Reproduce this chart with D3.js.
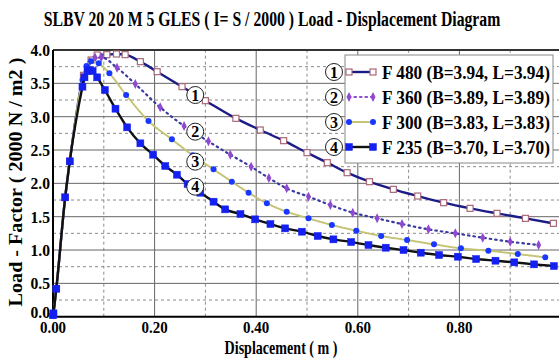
<!DOCTYPE html>
<html>
<head>
<meta charset="utf-8">
<script src="https://cdn.jsdelivr.net/npm/d3@7"></script>
<style>
  body { margin: 0; background: #fff; }
  text { font-family: "Liberation Serif", "Times New Roman", serif; font-weight: bold; }
</style>
</head>
<body>
<div id="chart"></div>
<script>
// Data
var title = "SLBV 20 20 M 5 GLES ( I= S / 2000 ) Load - Displacement Diagram";
var xTicks = [0, 0.2, 0.4, 0.6, 0.8];
var yTicks = [0, 0.5, 1.0, 1.5, 2.0, 2.5, 3.0, 3.5, 4.0];
var seriesNames = ["F 480 (B=3.94, L=3.94)", "F 360 (B=3.89, L=3.89)", "F 300 (B=3.83, L=3.83)", "F 235 (B=3.70, L=3.70)"];

var x1 = [0, 0.0065, 0.024, 0.033, 0.06, 0.075, 0.087, 0.106, 0.125, 0.142, 0.172, 0.205, 0.254, 0.30, 0.36, 0.408, 0.454, 0.50, 0.54, 0.579, 0.623, 0.67, 0.718, 0.769, 0.821, 0.874, 0.93, 0.985];
var y1 = [0, 0.42, 1.79, 2.33, 3.62, 3.85, 3.925, 3.93, 3.94, 3.93, 3.825, 3.675, 3.45, 3.24, 2.975, 2.80, 2.64, 2.46, 2.31, 2.16, 2.025, 1.91, 1.81, 1.71, 1.625, 1.55, 1.475, 1.40];

var x2 = [0, 0.0065, 0.024, 0.033, 0.06, 0.072, 0.083, 0.095, 0.126, 0.162, 0.211, 0.258, 0.306, 0.349, 0.39, 0.425, 0.46, 0.503, 0.546, 0.59, 0.638, 0.687, 0.739, 0.792, 0.846, 0.90, 0.956];
var y2 = [0, 0.42, 1.79, 2.33, 3.6, 3.82, 3.885, 3.89, 3.735, 3.49, 3.14, 2.86, 2.63, 2.43, 2.25, 2.08, 1.925, 1.80, 1.675, 1.56, 1.475, 1.39, 1.31, 1.25, 1.185, 1.125, 1.075];

var x3 = [0, 0.0065, 0.024, 0.033, 0.058, 0.066, 0.075, 0.09, 0.111, 0.144, 0.188, 0.234, 0.275, 0.316, 0.352, 0.385, 0.421, 0.46, 0.503, 0.549, 0.597, 0.646, 0.697, 0.75, 0.803, 0.857, 0.915, 0.969];
var y3 = [0, 0.42, 1.79, 2.33, 3.55, 3.76, 3.83, 3.80, 3.65, 3.325, 2.935, 2.66, 2.42, 2.21, 2.025, 1.86, 1.70, 1.575, 1.475, 1.375, 1.29, 1.21, 1.15, 1.085, 1.025, 0.99, 0.94, 0.89];

var x4 = [0, 0.001, 0.0065, 0.024, 0.033, 0.058, 0.062, 0.068, 0.073, 0.078, 0.087, 0.102, 0.123, 0.146, 0.172, 0.197, 0.221, 0.244, 0.265, 0.29, 0.316, 0.339, 0.369, 0.398, 0.428, 0.457, 0.49, 0.521, 0.552, 0.587, 0.621, 0.655, 0.69, 0.724, 0.76, 0.797, 0.833, 0.871, 0.908, 0.947, 0.986];
var y4 = [0, 0.05, 0.42, 1.79, 2.33, 3.45, 3.59, 3.685, 3.70, 3.685, 3.59, 3.40, 3.12, 2.84, 2.60, 2.43, 2.26, 2.13, 1.99, 1.86, 1.725, 1.61, 1.54, 1.46, 1.39, 1.325, 1.275, 1.21, 1.16, 1.12, 1.075, 1.035, 1.00, 0.96, 0.925, 0.90, 0.865, 0.84, 0.815, 0.785, 0.76];

// where the circled numbers sit on the curves
var tagX = [0.28, 0.28, 0.28, 0.28];
var tagY = [3.325, 2.775, 2.325, 1.95];

var W = 559, H = 358;
var svg = d3.select("#chart").append("svg")
  .attr("width", W).attr("height", H);

var x = d3.scaleLinear().domain([0, 1]).range([53, 561]);
var y = d3.scaleLinear().domain([0, 4]).range([316.7, 50]);

// text squeezed horizontally with a transform (reference glyphs are narrow)
// w = wanted width in px, or a factor if below 2
function label(parent, px, py, str, size, anchor, w, rot) {
  var g = parent.append("g");
  var t = g.append("text").attr("font-size", size).attr("text-anchor", anchor || "start").text(str);
  var nat = t.node().getComputedTextLength();
  var s = w < 2 ? w : w / nat;
  g.attr("transform", `translate(${px},${py})` + (rot ? ` rotate(${rot})` : "") + ` scale(${s},1)`);
  return g;
}

// title
label(svg, 272, 26, title, 20, "middle", 457);

// grid
var grid = svg.append("g");
var xMinor = d3.range(0.1, 1, 0.2);
var yMinor = d3.range(0.25, 4, 0.5);
grid.selectAll(".vmin").data(xMinor).enter().append("line")
  .attr("x1", d => x(d)).attr("x2", d => x(d))
  .attr("y1", y(0)).attr("y2", y(4))
  .attr("stroke", "#8a8a8a").attr("stroke-dasharray", "3,3");
grid.selectAll(".hmin").data(yMinor).enter().append("line")
  .attr("x1", x(0)).attr("x2", W)
  .attr("y1", d => y(d)).attr("y2", d => y(d))
  .attr("stroke", "#8a8a8a").attr("stroke-dasharray", "3,3");
grid.selectAll(".vmaj").data(xTicks.slice(1)).enter().append("line")
  .attr("x1", d => x(d)).attr("x2", d => x(d))
  .attr("y1", y(0)).attr("y2", y(4))
  .attr("stroke", "#666");
grid.selectAll(".hmaj").data(yTicks.slice(1, -1)).enter().append("line")
  .attr("x1", x(0)).attr("x2", W)
  .attr("y1", d => y(d)).attr("y2", d => y(d))
  .attr("stroke", "#666");

// frame
svg.append("line").attr("x1", x(0)).attr("x2", W).attr("y1", y(4)).attr("y2", y(4))
  .attr("stroke", "#333").attr("stroke-width", 2);
svg.append("line").attr("x1", x(0)).attr("x2", W).attr("y1", y(0)).attr("y2", y(0))
  .attr("stroke", "#000").attr("stroke-width", 2);
svg.append("line").attr("x1", x(0)).attr("x2", x(0)).attr("y1", y(0)).attr("y2", y(4))
  .attr("stroke", "#000").attr("stroke-width", 2);

// tick labels
xTicks.forEach(d => label(svg, x(d), 333, d.toFixed(2), 17, "middle", 0.88));
yTicks.forEach(d => label(svg, 50, d === 0 ? y(d) + 1 : y(d) + 6, d.toFixed(1), 17, "end", 0.92));

// axis titles
label(svg, 281, 354, "Displacement ( m )", 18, "middle", 113);
label(svg, 22, 182, "Load - Factor ( 2000 N / m2 )", 18, "middle", 249, -90);

// series
var styles = [
  {line: "#1c1c86", width: 2.4, dash: null, mark: "osq", mfill: "#fff", mstroke: "#a86878"},
  {line: "#3a3aa0", width: 2.2, dash: "1.5,4", mark: "dia", mfill: "#9048d0", mstroke: "#9048d0"},
  {line: "#c4c474", width: 2, dash: "1.5,1.5", mark: "cir", mfill: "#1838ff", mstroke: "#1838ff"},
  {line: "#111", width: 2.4, dash: null, mark: "sq", mfill: "#1420f0", mstroke: "#1420f0"}
];
var xsAll = [x1, x2, x3, x4];
var ysAll = [y1, y2, y3, y4];

svg.append("clipPath").attr("id", "clip").append("rect")
  .attr("x", x(0) - 5).attr("y", y(4) - 6).attr("width", W).attr("height", y(0) - y(4) + 8);
var plot = svg.append("g").attr("clip-path", "url(#clip)");

var line = d3.line().x(d => x(d[0])).y(d => y(d[1])).curve(d3.curveMonotoneX);

function drawMark(g, kind, st, px, py) {
  if (kind === "osq" || kind === "sq") {
    var s = kind === "sq" ? 7 : 6;
    g.append("rect").attr("x", px - s / 2).attr("y", py - s / 2).attr("width", s).attr("height", s)
      .attr("fill", st.mfill).attr("stroke", st.mstroke).attr("stroke-width", kind === "sq" ? 0.5 : 1.2);
  } else if (kind === "dia") {
    g.append("path").attr("d", `M${px},${py - 5}L${px + 2.5},${py}L${px},${py + 5}L${px - 2.5},${py}Z`)
      .attr("fill", st.mfill);
  } else {
    g.append("circle").attr("cx", px).attr("cy", py).attr("r", 3).attr("fill", st.mfill);
  }
}

xsAll.forEach(function(xs, i) {
  var pts = xs.map((v, j) => [v, ysAll[i][j]]);
  var st = styles[i];
  plot.append("path").datum(pts)
    .attr("d", line)
    .attr("fill", "none")
    .attr("stroke", st.line)
    .attr("stroke-width", st.width)
    .attr("stroke-linecap", st.dash ? "round" : "butt")
    .attr("stroke-dasharray", st.dash);
  var mg = plot.append("g");
  pts.forEach(p => drawMark(mg, st.mark, st, x(p[0]), y(p[1])));
});

// circled tags on curves
function tag(g, cx, cy, n) {
  g.append("circle").attr("cx", cx).attr("cy", cy).attr("r", 8.5)
    .attr("fill", "#fff").attr("stroke", "#222").attr("stroke-width", 1);
  g.append("text").attr("x", cx).attr("y", cy + 5.5)
    .attr("text-anchor", "middle").attr("font-size", 16).text(n);
}
var tags = svg.append("g");
tagX.forEach((v, i) => tag(tags, x(v), y(tagY[i]), i + 1));

// legend
var lg = svg.append("g");
lg.append("rect").attr("x", 345).attr("y", 55).attr("width", 208).attr("height", 108)
  .attr("fill", "#fff").attr("stroke", "#888");
var rowY = [72, 97, 122, 147];
seriesNames.forEach(function(name, i) {
  var st = styles[i];
  var ry = rowY[i];
  lg.append("line").attr("x1", 349).attr("x2", 373).attr("y1", ry).attr("y2", ry)
    .attr("stroke", i === 1 ? "#9048d0" : st.line).attr("stroke-width", st.width)
    .attr("stroke-linecap", st.dash ? "round" : "butt")
    .attr("stroke-dasharray", st.dash);
  drawMark(lg, st.mark, st, 349, ry);
  drawMark(lg, st.mark, st, 373, ry);
  label(lg, 382, ry + 6.5, name, 19, "start", 168);
  tag(lg, 334, ry, i + 1);
});
</script>
</body>
</html>
